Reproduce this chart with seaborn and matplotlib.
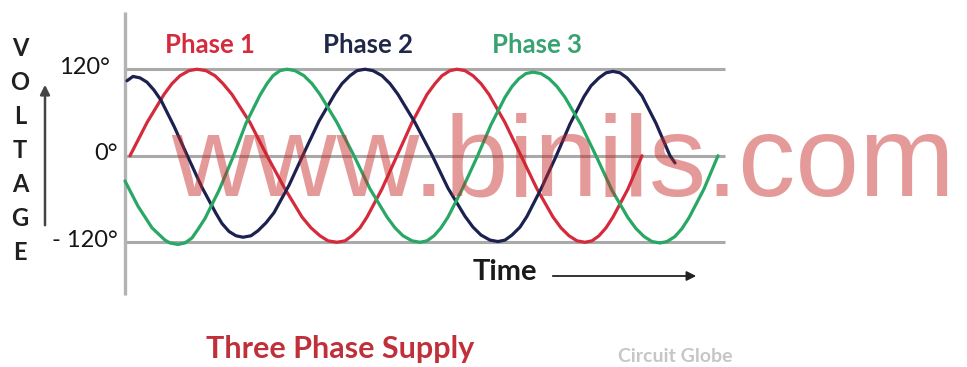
import pandas as pd
import seaborn as sns
import matplotlib.pyplot as plt

sns.set_theme(style="white")
plt.rcParams['font.family'] = ['Lato', 'DejaVu Sans']

# points: time (px from the axis), voltage (deg)
red_t = [5, 22, 39, 47, 55, 64, 72, 81, 90, 98, 107, 125, 142, 160, 177, 186, 195, 203, 212,
         220, 227, 235, 242, 257, 272, 287, 302, 310, 317, 325, 332, 340, 348, 356, 364, 380,
         396, 412, 428, 436, 444, 452, 460, 467, 474, 481, 488, 503, 517]
red_v = [0, 46, 85, 100, 111, 118, 120, 118, 111, 100, 85, 46, 0, -46, -85, -100, -111, -118, -120,
         -118, -111, -100, -85, -46, 0, 46, 85, 100, 111, 118, 120, 118, 111, 100, 85, 46,
         0, -46, -85, -100, -111, -118, -120, -118, -111, -100, -85, -46, 0]

navy_t = [2, 8, 15, 22, 29, 36, 49, 63, 77, 91, 97, 104, 111, 118, 126, 133, 141, 149, 164, 179,
          194, 210, 217, 225, 232, 240, 248, 257, 265, 273, 290, 307, 323, 340, 348, 356, 365, 373,
          380, 387, 395, 402, 416, 431, 445, 459, 466, 474, 481, 488, 495, 502, 509, 517, 531,
          545, 550]
navy_v = [104, 110, 108, 102, 91, 77, 41, -2, -44, -80, -94, -105, -111, -113, -111, -104, -93, -79,
          -41, 4, 48, 86, 100, 111, 118, 120, 118, 111, 100, 85, 46, 1, -45, -84, -99, -110, -117,
          -119, -117, -110, -99, -84, -46, -1, 44, 82, 97, 108, 115, 117, 115, 108, 97, 83, 45,
          0, -10]

green_t = [0, 13, 27, 40, 45, 53, 60, 67, 73, 80, 94, 108, 121, 135, 142, 148, 155, 162, 170, 179,
           187, 195, 212, 229, 245, 262, 270, 278, 287, 295, 302, 309, 316, 323, 337, 352, 366,
           380, 387, 394, 401, 408, 416, 424, 432, 440, 456, 472, 487, 503, 511, 519, 527, 535,
           542, 550, 557, 564, 579, 593]
green_v = [-35, -70, -100, -117, -121, -123, -121, -114, -102, -87, -48, -2, 45, 84, 100, 111, 118,
           120, 118, 111, 100, 85, 46, 0, -46, -85, -100, -111, -118, -120, -118, -111, -100, -85,
           -47, -2, 43, 81, 96, 107, 114, 116, 114, 107, 96, 81, 43, -3, -48, -86, -101, -112,
           -119, -121, -119, -112, -101, -86, -46, 0]

phase_names = ['Phase 1', 'Phase 2', 'Phase 3']
phase_colors = ['#d42a3c', '#1c2150', '#28a765']
label_colors = ['#d42c3e', '#1f2848', '#38a271']
levels = [120, 0, -120]
level_labels = ['120°', '0°', '- 120°']
y_letters = 'VOLTAGE'

W, H = 967, 367


def px(x, y):
    # figure pixel (from top left) -> figure fraction
    return x / W, 1 - y / H


frames = []
for name, t, v in zip(phase_names, [red_t, navy_t, green_t], [red_v, navy_v, green_v]):
    frames.append(pd.DataFrame({'time': t, 'voltage': v, 'phase': name}))
df = pd.concat(frames, ignore_index=True)

fig = plt.figure(figsize=(W / 100, H / 100), dpi=100)
ax = fig.add_axes([0, 0, 1, 1])

ax.hlines(levels, 0, 600, color='#a9a9a9', lw=2.2, zorder=1)
ax.vlines(0, -193, 199, color='#b3b3b3', lw=2.4, zorder=1)

sns.lineplot(data=df, x='time', y='voltage', hue='phase',
             palette=dict(zip(phase_names, phase_colors)),
             estimator=None, sort=False, legend=False, lw=2.3, ax=ax, zorder=3,
             solid_joinstyle='round', solid_capstyle='round')

ax.set_xlim(-125, 842)
ax.set_ylim(-293, 216)
ax.axis('off')

# level labels
for lev, lab, x in zip(levels, level_labels, [-15, -7, -7]):
    ax.text(x, lev + 3, lab, ha='right', va='center', fontsize=17, color='#151515')

# phase names on top
for name, col, x in zip(phase_names, label_colors, [210, 368, 537]):
    fig.text(*px(x, 45), name, color=col, fontsize=18.5, fontweight='bold',
             ha='center', va='center')

# vertical VOLTAGE
for i, ch in enumerate(y_letters):
    fig.text(*px(20, 48 + 34 * i), ch, fontsize=17, fontweight='bold',
             ha='center', va='center', color='#202020')
ax.annotate('', xy=px(45, 82), xytext=px(45, 228), xycoords='figure fraction',
            arrowprops=dict(arrowstyle='-|>', color='#444444', lw=1.8, mutation_scale=14))

# time arrow
fig.text(*px(473, 272), 'Time', fontsize=21, fontweight='bold', ha='left', va='center',
         color='#1a1a1a')
ax.annotate('', xy=px(699, 276), xytext=px(550, 276), xycoords='figure fraction',
            arrowprops=dict(arrowstyle='-|>', color='#222222', lw=1.3, mutation_scale=14))

fig.text(*px(340, 349), 'Three Phase Supply', color='#c0303a', fontsize=22,
         fontweight='bold', ha='center', va='center')
fig.text(*px(675, 357), 'Circuit Globe', color='#c6c6c6', fontsize=14,
         fontweight='bold', ha='center', va='center')

# watermark
fig.text(171 / W, 1 - 196 / H, 'www.binils.com', fontsize=82.5, family='Liberation Sans',
         color=(200 / 255, 40 / 255, 40 / 255), alpha=0.47, ha='left', va='baseline',
         zorder=10)

fig.savefig('out.png', dpi=100)
